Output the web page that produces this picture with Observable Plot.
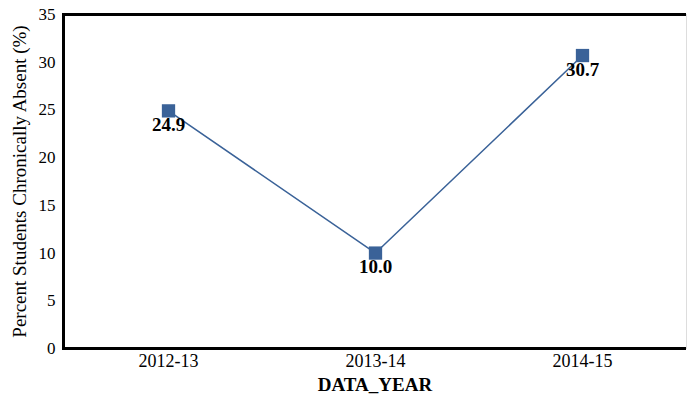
<!DOCTYPE html>
<html>
<head>
<meta charset="utf-8">
<script src="https://cdn.jsdelivr.net/npm/d3@7"></script>
<script src="https://cdn.jsdelivr.net/npm/@observablehq/plot@0.6"></script>
<style>
  html, body { margin: 0; padding: 0; background: #fff; }
  #chart svg { display: block; }
  #chart svg, #chart svg text { font-family: "Liberation Serif", "Times New Roman", serif !important; }
</style>
</head>
<body>
<div id="chart"></div>
<script>
const years = ["2012-13", "2013-14", "2014-15"];
const values = [24.9, 10.0, 30.7];
const yTicks = [0, 5, 10, 15, 20, 25, 30, 35];

const data = years.map((y, i) => ({year: y, value: values[i]}));
const color = "#3A6298";
const font = "'Liberation Serif', 'Times New Roman', serif";

const chart = Plot.plot({
  width: 687,
  height: 401,
  marginLeft: 63,
  marginRight: 1,
  marginTop: 14,
  marginBottom: 53,
  style: {fontFamily: font, fontSize: "16px", color: "#000", background: "#fff"},
  x: {type: "point", domain: years, padding: 0.5, label: null},
  y: {domain: [0, 35], label: null},
  marks: [
    Plot.axisY({ticks: yTicks, tickSize: 0, tickPadding: 8, fontSize: 17, label: null}),
    Plot.axisX({tickSize: 0, tickPadding: 6, fontSize: 18, label: null}),
    Plot.ruleY([0], {stroke: "#000", strokeWidth: 3}),
    Plot.ruleY([35], {stroke: "#000", strokeWidth: 3}),
    Plot.frame({anchor: "left", stroke: "#000", strokeWidth: 3}),
    Plot.frame({anchor: "right", stroke: "#ddd", strokeWidth: 1}),
    Plot.line(data, {x: "year", y: "value", stroke: color, strokeWidth: 1.5}),
    Plot.dot(data, {x: "year", y: "value", symbol: "square", r: 7.5, fill: color, stroke: "none"}),
    Plot.text(data, {x: "year", y: "value", text: d => d.value.toFixed(1), dy: 14, fontSize: 19, fontWeight: "bold", fill: "#000"}),
    Plot.text(["DATA_YEAR"], {frameAnchor: "bottom", dy: 42, fontSize: 19, fontWeight: "bold", fill: "#000"}),
    Plot.text(["Percent Students Chronically Absent (%)"], {frameAnchor: "left", textAnchor: "middle", dx: -44, rotate: -90, fontSize: 19, fill: "#000"})
  ]
});
document.getElementById("chart").appendChild(chart);
</script>
</body>
</html>
